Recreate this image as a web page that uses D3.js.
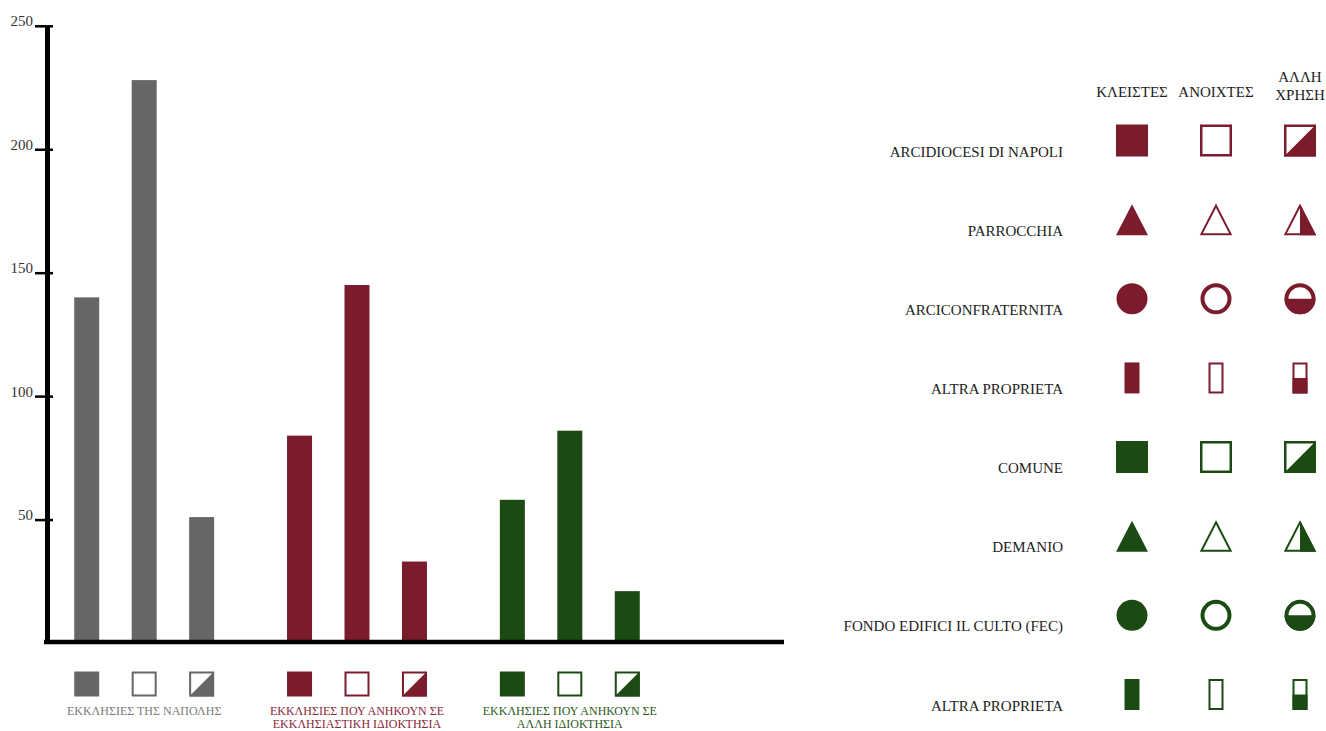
<!DOCTYPE html>
<html>
<head>
<meta charset="utf-8">
<script src="https://cdn.jsdelivr.net/npm/d3@7"></script>
<style>
  body { margin: 0; background: #fff; }
  text { font-family: "Liberation Serif", "DejaVu Serif", serif; }
</style>
</head>
<body>
<script>
// bar groups and their labels (one entry per line)
const groups = ["napoli", "ecclesiastica", "altra"];
const groupLabels = [
  ["ΕΚΚΛΗΣΙΕΣ ΤΗΣ ΝΑΠΟΛΗΣ"],
  ["ΕΚΚΛΗΣΙΕΣ ΠΟΥ ΑΝΗΚΟΥΝ ΣΕ", "ΕΚΚΛΗΣΙΑΣΤΙΚΗ ΙΔΙΟΚΤΗΣΙΑ"],
  ["ΕΚΚΛΗΣΙΕΣ ΠΟΥ ΑΝΗΚΟΥΝ ΣΕ", "ΑΛΛΗ ΙΔΙΟΚΤΗΣΙΑ"]
];
const states = ["closed", "open", "mixed"];

// values per group: closed, open, other use
const napoliValues = [140, 228, 51];
const ecclValues = [84, 145, 33];
const otherValues = [58, 86, 21];
const yTicks = [50, 100, 150, 200, 250];

// right legend
const colLabels = [["ΚΛΕΙΣΤΕΣ"], ["ΑΝΟΙΧΤΕΣ"], ["ΑΛΛΗ", "ΧΡΗΣΗ"]];
const rowLabels = ["ARCIDIOCESI DI NAPOLI", "PARROCCHIA", "ARCICONFRATERNITA", "ALTRA PROPRIETA",
  "COMUNE", "DEMANIO", "FONDO EDIFICI IL CULTO (FEC)", "ALTRA PROPRIETA"];
const rowShapes = ["square", "triangle", "circle", "rect", "square", "triangle", "circle", "rect"];
const rowOwners = ["ecclesiastica", "ecclesiastica", "ecclesiastica", "ecclesiastica",
  "altra", "altra", "altra", "altra"];

const color = d3.scaleOrdinal().domain(groups).range(["#666666", "#7b1c2d", "#1b4a13"]);
const textColor = d3.scaleOrdinal().domain(groups).range(["#7a7a7a", "#8a2638", "#2c5a22"]);

const valuesByGroup = [napoliValues, ecclValues, otherValues];
const bars = [];
groups.forEach((g, i) => states.forEach((s, j) => bars.push({group: g, state: s, value: valuesByGroup[i][j]})));

const svg = d3.select("body").append("svg")
  .attr("width", 1326)
  .attr("height", 731);

// scales
const y = d3.scaleLinear().domain([0, 250]).range([643, 25.8]);
const x0 = d3.scaleBand().domain(groups).range([58, 656]).paddingInner(0.19);
const x1 = d3.scaleBand().domain(states).range([0, x0.bandwidth()])
  .paddingInner(0.565).paddingOuter(0.2825);

// bars
svg.append("g")
  .selectAll("rect")
  .data(bars)
  .join("rect")
  .attr("x", d => x0(d.group) + x1(d.state))
  .attr("y", d => y(d.value))
  .attr("width", x1.bandwidth())
  .attr("height", d => y(0) - y(d.value))
  .attr("fill", d => color(d.group));

// y axis
const yAxis = svg.append("g")
  .attr("transform", "translate(47,0)")
  .call(d3.axisLeft(y).tickValues(yTicks).tickSizeOuter(0).tickSizeInner(12).tickPadding(2));
yAxis.select(".domain").attr("stroke", "#000").attr("stroke-width", 5);
yAxis.selectAll(".tick line").attr("x1", 6).attr("stroke", "#000").attr("stroke-width", 2.5);
yAxis.selectAll(".tick text")
  .attr("dy", 0)
  .attr("font-size", 15)
  .attr("fill", "#333")
  .attr("font-family", "Liberation Serif, serif");

// x axis line
svg.append("line")
  .attr("x1", 44).attr("x2", 784)
  .attr("y1", y(0) - 1).attr("y2", y(0) - 1)
  .attr("stroke", "#000").attr("stroke-width", 4.5);

// symbol geometry
function shapePath(shape, inset) {
  const p = d3.path();
  if (shape === "square") {
    const h = 16 - inset;
    p.rect(-h, -h, 2 * h, 2 * h);
  } else if (shape === "legendSquare") {
    const h = 12.5 - inset;
    p.rect(-h, -h, 2 * h, 2 * h);
  } else if (shape === "triangle") {
    p.moveTo(0, -15.5 + inset * 1.6);
    p.lineTo(16 - inset * 1.4, 15.5 - inset);
    p.lineTo(-16 + inset * 1.4, 15.5 - inset);
    p.closePath();
  } else if (shape === "circle") {
    p.arc(0, 0, 15.5 - inset, 0, 2 * Math.PI);
  } else {
    p.rect(-7.5 + inset, -15.5 + inset, 15 - 2 * inset, 31 - 2 * inset);
  }
  return p.toString();
}
const strokeW = {square: 2.5, legendSquare: 2, triangle: 2, circle: 4, rect: 2};

const defs = svg.append("defs");
const clips = {
  square: "M-17,17L17,-17L17,17Z",
  legendSquare: "M-13,13L13,-13L13,13Z",
  triangle: "M0,-20H20V20H0Z",
  circle: "M-20,0H20V20H-20Z",
  rect: "M-10,0H10V20H-10Z"
};
Object.entries(clips).forEach(([k, d]) => {
  defs.append("clipPath").attr("id", "clip-" + k).append("path").attr("d", d);
});

function drawSymbol(g, shape, state, col) {
  const sw = strokeW[shape];
  if (state === "closed") {
    g.append("path").attr("d", shapePath(shape, 0)).attr("fill", col);
  } else if (state === "open") {
    g.append("path").attr("d", shapePath(shape, sw / 2))
      .attr("fill", "#fff").attr("stroke", col).attr("stroke-width", sw);
  } else {
    g.append("path").attr("d", shapePath(shape, 0))
      .attr("fill", col).attr("clip-path", `url(#clip-${shape})`);
    g.append("path").attr("d", shapePath(shape, sw / 2))
      .attr("fill", "none").attr("stroke", col).attr("stroke-width", sw);
  }
}

// bottom legend
bars.forEach(d => {
  const g = svg.append("g")
    .attr("transform", `translate(${x0(d.group) + x1(d.state) + x1.bandwidth() / 2},684)`);
  drawSymbol(g, "legendSquare", d.state, color(d.group));
});
groups.forEach((g, i) => {
  svg.append("text")
    .attr("x", x0(g) + x0.bandwidth() / 2)
    .attr("y", 715)
    .attr("text-anchor", "middle")
    .attr("font-size", 12)
    .attr("fill", textColor(g))
    .selectAll("tspan")
    .data(groupLabels[i])
    .join("tspan")
    .attr("x", x0(g) + x0.bandwidth() / 2)
    .attr("dy", (d, k) => k === 0 ? 0 : 13)
    .text(d => d);
});

// right legend
const colX = d3.scalePoint().domain(states).range([1132, 1300]);
const rowY = d3.scalePoint().domain(d3.range(rowLabels.length)).range([140.5, 694.5]);

states.forEach((s, i) => {
  const lines = colLabels[i];
  svg.append("text")
    .attr("text-anchor", "middle")
    .attr("font-size", 15)
    .attr("fill", "#222")
    .selectAll("tspan")
    .data(lines)
    .join("tspan")
    .attr("x", colX(s))
    .attr("y", (d, k) => lines.length === 1 ? 97 : 82 + k * 18)
    .text(d => d);
});

rowLabels.forEach((label, r) => {
  svg.append("text")
    .attr("x", 1063)
    .attr("y", rowY(r) + 16)
    .attr("text-anchor", "end")
    .attr("font-size", 15)
    .attr("fill", "#222")
    .text(label);
  states.forEach(s => {
    const g = svg.append("g").attr("transform", `translate(${colX(s)},${rowY(r)})`);
    drawSymbol(g, rowShapes[r], s, color(rowOwners[r]));
  });
});
</script>
</body>
</html>
